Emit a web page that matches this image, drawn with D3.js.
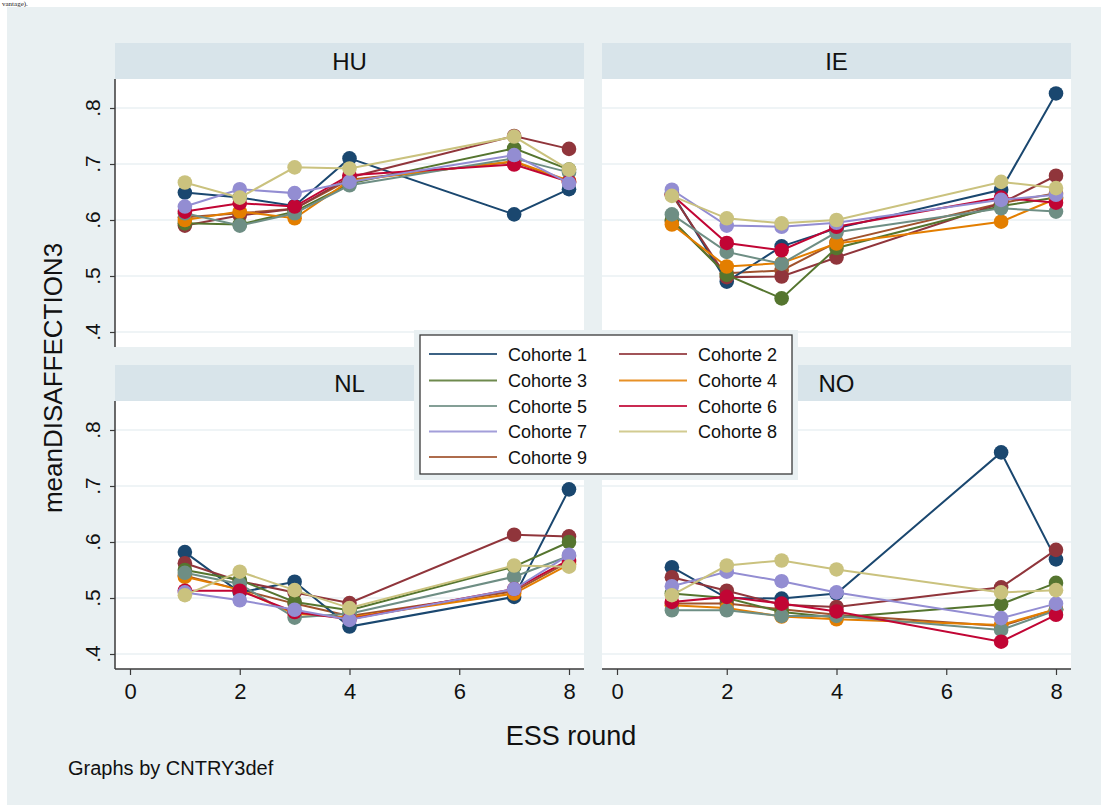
<!DOCTYPE html>
<html>
<head>
<meta charset="utf-8">
<script src="https://cdn.jsdelivr.net/npm/d3@7"></script>
<style>
  html, body { margin: 0; padding: 0; background: #ffffff; }
  svg { display: block; font-family: "Liberation Sans", Arial, Helvetica, sans-serif; }
</style>
</head>
<body>
<svg id="chart" width="1101" height="805"></svg>
<script>
// ESS rounds observed for each country
const rounds = [1, 2, 3, 4, 7, 8];
const countries = ["HU", "IE", "NL", "NO"];
const cohorts = ["Cohorte 1", "Cohorte 2", "Cohorte 3", "Cohorte 4", "Cohorte 5",
                 "Cohorte 6", "Cohorte 7", "Cohorte 8", "Cohorte 9"];
const xTicks = [0, 2, 4, 6, 8];
const yTicks = [0.4, 0.5, 0.6, 0.7, 0.8];

// mean disaffection per cohort, one value per round in `rounds`
const HU = [
  [0.649, 0.640, 0.625, 0.710, 0.610, 0.655],
  [0.590, 0.608, 0.620, 0.676, 0.750, 0.727],
  [0.594, 0.592, 0.615, 0.665, 0.728, 0.690],
  [0.600, 0.615, 0.603, 0.670, 0.705, 0.670],
  [0.612, 0.590, 0.612, 0.662, 0.710, 0.685],
  [0.615, 0.630, 0.624, 0.680, 0.699, 0.668],
  [0.624, 0.655, 0.648, 0.668, 0.716, 0.666],
  [0.667, 0.640, 0.694, 0.692, 0.749, 0.690],
  [0.605, 0.612, 0.620, 0.672, 0.704, 0.668]
];
const IE = [
  [0.648, 0.490, 0.553, 0.585, 0.654, 0.826],
  [0.645, 0.498, 0.499, 0.533, 0.630, 0.679],
  [0.600, 0.502, 0.460, 0.550, 0.625, 0.640],
  [0.592, 0.517, 0.523, 0.558, 0.597, 0.638],
  [0.610, 0.543, 0.522, 0.578, 0.621, 0.615],
  [0.645, 0.559, 0.546, 0.588, 0.640, 0.631],
  [0.654, 0.590, 0.588, 0.595, 0.636, 0.645],
  [0.643, 0.603, 0.594, 0.600, 0.668, 0.657],
  [0.598, 0.505, 0.510, 0.560, 0.630, 0.648]
];
const NL = [
  [0.582, 0.510, 0.529, 0.449, 0.502, 0.694],
  [0.562, 0.530, 0.510, 0.491, 0.613, 0.610],
  [0.550, 0.532, 0.493, 0.478, 0.556, 0.600],
  [0.538, 0.515, 0.472, 0.465, 0.508, 0.560],
  [0.545, 0.525, 0.465, 0.472, 0.538, 0.575],
  [0.513, 0.513, 0.475, 0.462, 0.516, 0.568],
  [0.510, 0.496, 0.479, 0.461, 0.516, 0.577],
  [0.505, 0.547, 0.514, 0.482, 0.558, 0.556],
  [0.540, 0.515, 0.490, 0.468, 0.512, 0.565]
];
const NO = [
  [0.555, 0.500, 0.499, 0.508, 0.760, 0.569],
  [0.537, 0.513, 0.488, 0.484, 0.519, 0.586],
  [0.508, 0.500, 0.475, 0.465, 0.489, 0.527],
  [0.487, 0.482, 0.467, 0.462, 0.452, 0.480],
  [0.478, 0.478, 0.468, 0.468, 0.443, 0.478],
  [0.493, 0.502, 0.490, 0.476, 0.422, 0.470],
  [0.521, 0.547, 0.530, 0.510, 0.464, 0.490],
  [0.505, 0.558, 0.567, 0.551, 0.510, 0.514],
  [0.490, 0.490, 0.480, 0.470, 0.450, 0.480]
];
const panelValues = [HU, IE, NL, NO];

// Stata s2color palette
const colors = ["#1a476f", "#90353b", "#55752f", "#e37e00", "#6e8e84",
                "#c10534", "#938dd2", "#cac27e", "#a0522d"];

const svg = d3.select("#chart");
const W = 1101, H = 805;
const bg = "#e9f0f2", stripFill = "#d8e4ea", gridCol = "#eaf1f3", axisCol = "#3a3a3a";

// line of the surrounding page text above the graph
svg.append("text").attr("x", 2).attr("y", 6)
  .attr("font-family", "'Liberation Serif', serif").attr("font-size", 7)
  .attr("fill", "#222").text("vantage).");

// graph region
svg.append("rect").attr("x", 7).attr("y", 7).attr("width", W - 7).attr("height", H - 7).attr("fill", bg);

const colLeft = [115, 602];
const panelW = 469;
const stripTop = [43, 365];
const stripH = 36;
const plotH = 268;

const color = d3.scaleOrdinal().domain(cohorts).range(colors);

panelValues.forEach((vals, p) => {
  const col = p % 2, row = Math.floor(p / 2);
  const left = colLeft[col];
  const top = stripTop[row] + stripH;

  const x = d3.scaleLinear().domain([0, 8]).range([left + 15, left + 454]);
  const y = d3.scaleLinear().domain([0.4, 0.8]).range([top + 253, top + 29]);

  const g = svg.append("g");

  // strip with country name
  g.append("rect").attr("x", left).attr("y", stripTop[row]).attr("width", panelW).attr("height", stripH)
    .attr("fill", stripFill);
  g.append("text").attr("x", left + panelW / 2).attr("y", stripTop[row] + stripH / 2 + 8.5)
    .attr("text-anchor", "middle").attr("font-size", 24).attr("fill", "#111").text(countries[p]);

  // plot region
  g.append("rect").attr("x", left).attr("y", top).attr("width", panelW).attr("height", plotH)
    .attr("fill", "#ffffff");

  // horizontal grid
  g.selectAll(".grid").data(yTicks).join("line")
    .attr("x1", left).attr("x2", left + panelW)
    .attr("y1", d => y(d)).attr("y2", d => y(d))
    .attr("stroke", gridCol).attr("stroke-width", 1.5);

  // y axis on the left column only
  if (col === 0) {
    const ya = g.append("g").attr("transform", `translate(${left},0)`)
      .call(d3.axisLeft(y).tickValues(yTicks).tickSize(5).tickFormat(() => ""));
    ya.select(".domain").attr("d", `M0,${top}V${top + plotH}`).attr("stroke", axisCol).attr("stroke-width", 1.5);
    ya.selectAll(".tick line").attr("stroke", axisCol).attr("stroke-width", 1.2);
    g.selectAll(".ylab").data(yTicks).join("text")
      .attr("transform", d => `translate(${left - 15},${y(d)}) rotate(-90)`)
      .attr("text-anchor", "middle").attr("font-size", 21).attr("fill", "#111")
      .text(d => d3.format(".1f")(d).replace(/^0/, ""));
  }

  // x axis on the bottom row only
  if (row === 1) {
    const xa = g.append("g").attr("transform", `translate(0,${top + plotH})`)
      .call(d3.axisBottom(x).tickValues(xTicks).tickSize(6).tickPadding(8).tickFormat(d3.format("d")));
    xa.select(".domain").attr("d", `M${left},0H${left + panelW}`).attr("stroke", axisCol).attr("stroke-width", 1.5);
    xa.selectAll(".tick line").attr("stroke", axisCol).attr("stroke-width", 1.2);
    xa.selectAll(".tick text").attr("font-size", 22).attr("fill", "#111")
      .attr("font-family", "'Liberation Sans', Arial, sans-serif");
  }

  const line = d3.line().x((d, i) => x(rounds[i])).y(d => y(d));

  // last cohort drawn first so it sits beneath the others
  const order = [8, 0, 1, 2, 3, 4, 5, 6, 7];
  order.forEach(k => {
    const s = g.append("g");
    s.append("path").datum(vals[k]).attr("d", line)
      .attr("fill", "none").attr("stroke", color(cohorts[k])).attr("stroke-width", 2);
    s.selectAll("circle").data(vals[k]).join("circle")
      .attr("cx", (d, i) => x(rounds[i])).attr("cy", d => y(d)).attr("r", 7.3)
      .attr("fill", color(cohorts[k]));
  });
});

// axis titles and note
svg.append("text").attr("transform", "translate(62,378) rotate(-90)")
  .attr("text-anchor", "middle").attr("font-size", 26).attr("fill", "#111").text("meanDISAFFECTION3");
svg.append("text").attr("x", 571).attr("y", 745)
  .attr("text-anchor", "middle").attr("font-size", 27).attr("fill", "#111").text("ESS round");
svg.append("text").attr("x", 68).attr("y", 775)
  .attr("font-size", 20).attr("fill", "#111").text("Graphs by CNTRY3def");

// legend
const lg = svg.append("g");
lg.append("rect").attr("x", 414).attr("y", 330).attr("width", 384).attr("height", 150).attr("fill", bg);
lg.append("rect").attr("x", 420).attr("y", 335).attr("width", 372).attr("height", 139)
  .attr("fill", "#ffffff").attr("stroke", "#3a3a3a").attr("stroke-width", 1.3);
const rowY = [354, 380.5, 406, 431.5, 457];
cohorts.forEach((c, i) => {
  const cx = i % 2 === 0 ? 429 : 619;
  const cy = rowY[Math.floor(i / 2)];
  lg.append("line").attr("x1", cx).attr("x2", cx + 68).attr("y1", cy).attr("y2", cy)
    .attr("stroke", color(c)).attr("stroke-width", 2).attr("stroke-opacity", 0.85);
  lg.append("text").attr("x", cx + 79).attr("y", cy + 6.5)
    .attr("font-size", 18).attr("fill", "#111").text(c);
});
</script>
</body>
</html>
